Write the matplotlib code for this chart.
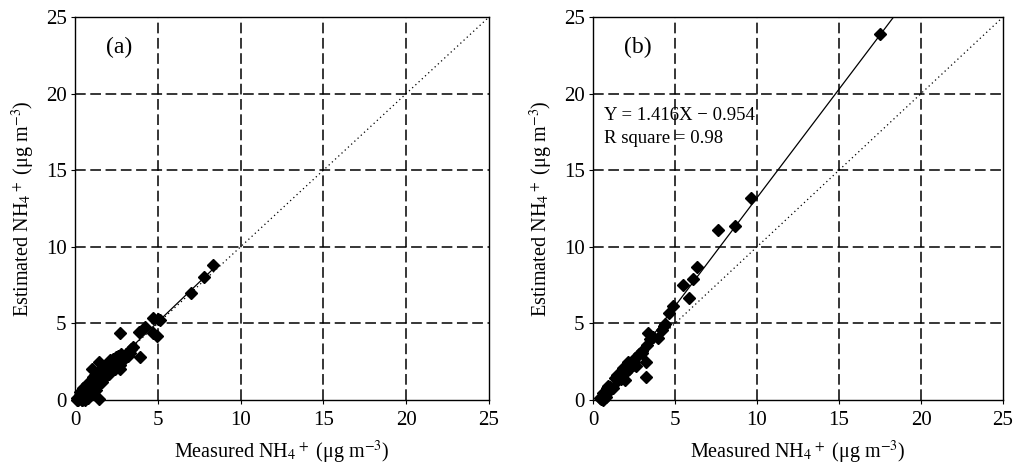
import numpy as np
import matplotlib
matplotlib.use("Agg")
import matplotlib.pyplot as plt

plt.rcParams['font.family'] = ['Liberation Serif', 'DejaVu Serif']
plt.rcParams['mathtext.fontset'] = 'stix'

# ---- data (a) ----
a_x = [0.1, 0.15, 0.2, 0.25, 0.3, 0.3, 0.35, 0.4, 0.4, 0.45, 0.5, 0.5, 0.55, 0.6, 0.6, 0.65,
       0.7, 0.7, 0.75, 0.8, 0.8, 0.85, 0.9, 0.9, 0.95, 1.0, 1.0, 1.05, 1.1, 1.1, 1.15, 1.2,
       1.2, 1.25, 1.3, 1.3, 1.35, 1.4, 1.4, 1.45, 1.5, 1.5, 1.6, 1.6, 1.65, 1.7, 1.7, 1.8,
       1.8, 1.85, 1.9, 1.9, 2.0, 2.0, 2.05, 2.1, 2.1, 2.2, 2.2, 2.3, 2.3, 2.4, 2.4, 2.5,
       2.5, 2.6, 2.6, 2.7, 2.7, 2.8, 2.8, 2.9, 3.0, 3.1, 3.2, 3.3, 3.4,
       0.2, 0.4, 0.6, 0.8, 0.5, 0.7, 0.9, 1.1, 0.3, 0.55, 0.75, 1.0, 1.2, 1.35,
       1.55, 1.75, 1.95, 2.15, 2.35, 2.55, 2.75, 0.65, 0.85, 1.05, 1.25,
       1.0, 1.45, 1.45, 2.72, 3.93, 3.88, 4.25, 4.69, 5.13, 4.73, 4.93, 3.52, 5.0,
       7.0, 7.8, 8.35]
a_y = [0.0, 0.1, 0.05, 0.2, 0.1, 0.35, 0.2, 0.0, 0.45, 0.3, 0.1, 0.6, 0.4, 0.2, 0.7, 0.5,
       0.3, 0.85, 0.6, 0.4, 0.9, 0.7, 0.5, 1.0, 0.8, 0.6, 1.1, 0.9, 0.7, 1.3, 1.0, 0.8,
       1.4, 1.1, 0.9, 1.5, 1.2, 1.0, 1.6, 1.3, 1.1, 1.7, 1.4, 1.9, 1.2, 1.6, 2.0, 1.5,
       2.1, 1.8, 1.6, 2.2, 1.9, 2.4, 1.7, 2.1, 2.6, 1.9, 2.4, 2.2, 2.7, 2.0, 2.5, 2.3,
       2.8, 2.5, 2.9, 2.3, 2.0, 2.7, 3.0, 2.6, 2.9, 3.0, 2.9, 3.1, 3.3,
       0.0, 0.0, 0.0, 0.1, 0.8, 1.0, 1.2, 1.5, 0.55, 0.75, 1.05, 1.3, 1.6, 1.75,
       1.95, 2.2, 2.35, 2.5, 2.6, 2.7, 2.9, 0.15, 0.3, 0.45, 0.65,
       2.0, 2.5, 0.07, 4.39, 2.79, 4.42, 4.79, 5.33, 5.22, 4.35, 4.18, 3.48, 5.3,
       7.0, 8.0, 8.8]

# ---- data (b) ----
b_x = [17.5, 9.61, 8.66, 7.6, 6.32, 6.12, 5.5, 5.85, 4.9, 4.65, 4.39, 4.19, 3.98, 3.37,
       3.64, 3.27, 3.23, 3.21, 2.97, 2.56, 2.42, 2.15, 1.95, 1.85, 1.44, 1.34, 1.04, 0.83,
       0.63, 0.43, 0.6, 0.8, 1.0, 0.9, 1.2, 1.6, 1.7, 2.0, 2.2, 2.3, 2.5, 2.8, 3.0, 3.5,
       4.3, 0.5, 0.7, 1.5, 1.8, 2.6]
b_y = [23.9, 13.2, 11.36, 11.1, 8.7, 7.88, 7.48, 6.64, 6.14, 5.66, 4.94, 4.57, 4.03, 4.35,
       4.1, 3.59, 2.5, 1.52, 3.05, 2.72, 2.28, 2.5, 1.3, 2.07, 1.63, 1.42, 0.87, 0.76,
       0.44, 0.1, 0.0, 0.2, 0.6, 0.9, 0.8, 1.5, 1.4, 1.8, 2.0, 2.4, 2.5, 3.0, 3.2, 4.0,
       4.8, 0.05, 0.3, 1.3, 1.7, 2.2]

b_slope, b_intercept = 1.416, -0.954
a_slope, a_intercept = np.polyfit(a_x, a_y, 1)

ticks = [0, 5, 10, 15, 20, 25]
xlabel = r'Measured NH$_4$$^+$ (μg m$^{-3}$)'
ylabel = r'Estimated NH$_4$$^+$ (μg m$^{-3}$)'

fig = plt.figure(figsize=(10.23, 4.70), dpi=100)
ax_a = fig.add_axes([75/1023, 70/470, 414/1023, 383/470])
ax_b = fig.add_axes([593/1023, 70/470, 410/1023, 383/470])

def style(ax, label):
    ax.set_xlim(0, 25)
    ax.set_ylim(0, 25)
    ax.set_xticks(ticks)
    ax.set_yticks(ticks)
    ax.tick_params(axis='x', direction='out', length=3, width=0.8, labelsize=15, pad=5)
    ax.tick_params(axis='y', direction='out', length=3, width=0.8, labelsize=15, pad=3)
    for v in ticks[1:-1]:
        ax.axvline(v, color='black', lw=1.1, ls=(0, (7, 3)), zorder=1)
        ax.axhline(v, color='black', lw=1.1, ls=(0, (7, 3)), zorder=1)
    for s in ax.spines.values():
        s.set_linewidth(1.0)
    ax.set_xlabel(xlabel, fontsize=14.5, labelpad=6)
    ax.set_ylabel(ylabel, fontsize=14.5, labelpad=6)
    ax.text(1.9, 23.0, label, fontsize=17, va='center', ha='left')
    ax.plot([0, 25], [0, 25], color='black', lw=0.9, ls=(0, (1, 2.5)), zorder=2)

style(ax_a, '(a)')
style(ax_b, '(b)')

# panel (a)
xa = np.linspace(0, 8.4, 50)
ax_a.plot(xa, a_slope * xa + a_intercept, color='black', lw=0.9, zorder=3)
ax_a.plot(a_x, a_y, 'D', color='black', ms=6.5, clip_on=False, zorder=4)

# panel (b)
xb = np.linspace(-b_intercept / b_slope, (25 - b_intercept) / b_slope, 50)
ax_b.plot(xb, b_slope * xb + b_intercept, color='black', lw=0.9, zorder=3)
ax_b.plot(b_x, b_y, 'D', color='black', ms=6.5, clip_on=False, zorder=4)
ax_b.text(0.7, 18.3, 'Y = 1.416X − 0.954', fontsize=13.5, ha='left', va='baseline')
ax_b.text(0.7, 16.8, 'R square = 0.98', fontsize=13.5, ha='left', va='baseline')

fig.savefig('out.png', dpi=100)
